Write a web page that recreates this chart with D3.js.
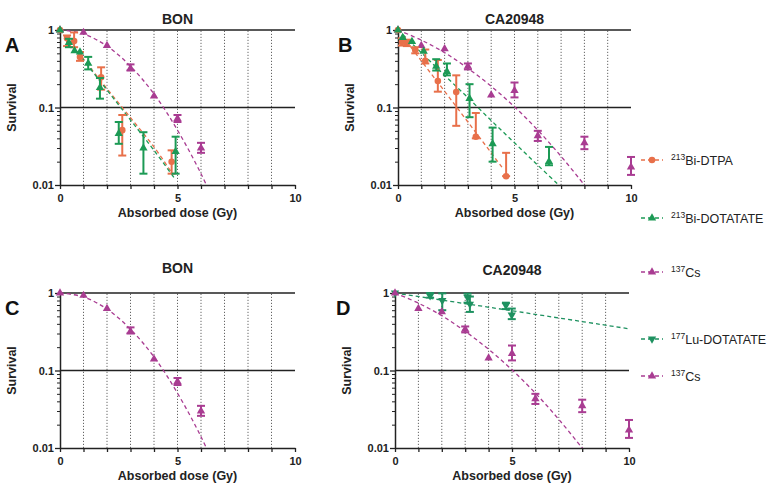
<!DOCTYPE html>
<html>
<head>
<meta charset="utf-8">
<script src="https://cdn.jsdelivr.net/npm/d3@7"></script>
<style>
  html, body { margin: 0; padding: 0; background: #fff; }
  svg { display: block; font-family: Arial, "Liberation Sans", sans-serif; }
</style>
</head>
<body>
<svg id="chart" width="769" height="485"></svg>
<script>
// ---------------- DATA ----------------
const doseTickValues = [0, 1, 2, 3, 4, 5, 6, 7, 8, 9, 10];
const doseTickLabels = [0, 5, 10];
const survivalTickLabels = [1, 0.1, 0.01];
const dottedDoses = [1, 2, 3, 4, 5, 6, 7, 8, 9];
const solidSurvivals = [1, 0.1];

// BON, 137Cs
const bonCs137 = [
  {d: 0, s: 1}, {d: 1, s: 0.93}, {d: 2, s: 0.63},
  {d: 3, s: 0.32, lo: 0.30, hi: 0.36}, {d: 4, s: 0.14},
  {d: 5, s: 0.072, lo: 0.065, hi: 0.08}, {d: 6, s: 0.03, lo: 0.026, hi: 0.035}
];
const bonCs137Fit = [[0, 1], [1, 0.89], [2, 0.62], [3, 0.34], [4, 0.15], [5, 0.051], [6, 0.014], [6.5, 0.0065]];

// BON, 213Bi-DTPA
const bonBiDTPA = [
  {d: 0, s: 1}, {d: 0.3, s: 0.78, lo: 0.62, hi: 0.85}, {d: 0.6, s: 0.72, lo: 0.6, hi: 0.93},
  {d: 0.85, s: 0.45, lo: 0.4, hi: 0.52}, {d: 1.75, s: 0.245, lo: 0.17, hi: 0.33},
  {d: 2.65, s: 0.051, lo: 0.024, hi: 0.08}, {d: 4.75, s: 0.02, lo: 0.014, hi: 0.028}
];
const bonBiDTPAFit = [[0, 1], [1, 0.42], [2, 0.175], [3, 0.074], [4, 0.031], [4.75, 0.0145]];

// BON, 213Bi-DOTATATE
const bonBiDOTATATE = [
  {d: 0, s: 1}, {d: 0.38, s: 0.69, lo: 0.6, hi: 0.77}, {d: 0.62, s: 0.54}, {d: 0.85, s: 0.52},
  {d: 1.2, s: 0.37, lo: 0.31, hi: 0.45}, {d: 1.7, s: 0.18, lo: 0.13, hi: 0.24},
  {d: 2.5, s: 0.046, lo: 0.034, hi: 0.065}, {d: 3.55, s: 0.03, lo: 0.014, hi: 0.048},
  {d: 4.92, s: 0.027, lo: 0.014, hi: 0.042}
];
const bonBiDOTATATEFit = [[0, 1], [1, 0.41], [2, 0.168], [3, 0.069], [4, 0.028], [4.85, 0.0125]];

// CA20948, 137Cs
const caCs137 = [
  {d: 0, s: 1}, {d: 1, s: 0.63}, {d: 2, s: 0.57}, {d: 3, s: 0.34, lo: 0.31, hi: 0.37},
  {d: 4, s: 0.145}, {d: 5, s: 0.165, lo: 0.135, hi: 0.21}, {d: 6, s: 0.043, lo: 0.037, hi: 0.05},
  {d: 8, s: 0.035, lo: 0.029, hi: 0.042}, {d: 10, s: 0.017, lo: 0.0135, hi: 0.023}
];
const caCs137Fit = [[0, 1], [1, 0.74], [2, 0.51], [3, 0.32], [4, 0.188], [5, 0.102], [6, 0.051], [7, 0.0234], [8, 0.01], [8.3, 0.0077]];

// CA20948, 213Bi-DTPA
const caBiDTPA = [
  {d: 0, s: 1}, {d: 0.17, s: 0.7, lo: 0.63, hi: 0.78}, {d: 0.38, s: 0.68, lo: 0.62, hi: 0.75},
  {d: 0.74, s: 0.55, lo: 0.5, hi: 0.6}, {d: 1.17, s: 0.4, lo: 0.37, hi: 0.56},
  {d: 1.71, s: 0.22, lo: 0.16, hi: 0.41}, {d: 2.5, s: 0.158, lo: 0.058, hi: 0.26},
  {d: 3.34, s: 0.042, lo: 0.04, hi: 0.085}, {d: 4.64, s: 0.013, lo: 0.013, hi: 0.026}
];
const caBiDTPAFit = [[0, 1], [1, 0.40], [2, 0.162], [3, 0.065], [4, 0.026], [4.46, 0.017]];

// CA20948, 213Bi-DOTATATE
const caBiDOTATATE = [
  {d: 0, s: 1}, {d: 0.2, s: 0.8}, {d: 0.6, s: 0.71}, {d: 1.1, s: 0.53},
  {d: 1.64, s: 0.34, lo: 0.3, hi: 0.42}, {d: 2.1, s: 0.29, lo: 0.26, hi: 0.37},
  {d: 3.07, s: 0.13, lo: 0.075, hi: 0.2}, {d: 4.06, s: 0.034, lo: 0.02, hi: 0.055},
  {d: 6.48, s: 0.02, lo: 0.018, hi: 0.031}
];
const caBiDOTATATEFit = [[0, 1], [1, 0.51], [2, 0.26], [3, 0.134], [4, 0.068], [5, 0.035], [6, 0.018], [6.9, 0.01]];

// CA20948, 177Lu-DOTATATE
const caLu = [
  {d: 0, s: 1}, {d: 1.5, s: 0.92, lo: 0.87, hi: 1.0}, {d: 2.02, s: 0.8, lo: 0.6, hi: 0.99},
  {d: 3.1, s: 0.88, lo: 0.75, hi: 0.98}, {d: 3.2, s: 0.72, lo: 0.57, hi: 0.9},
  {d: 4.74, s: 0.69, lo: 0.62, hi: 0.75}, {d: 4.99, s: 0.52, lo: 0.46, hi: 0.63}
];
const caLuFit = [[0, 1], [5, 0.59], [10, 0.345]];

// ---------------- STYLE ----------------
const COL_DTPA = "#E8704A";
const COL_DOTA = "#1C9A55";
const COL_CS = "#A93C92";
const COL_LU = "#1E9160";

const svg = d3.select("#chart");

const panels = [
  {letter: "A", title: "BON", x0: 60, x1: 295, yT: 30, yB: 185, titleY: 24, letterX: 5,
   series: [
     {data: bonCs137, fit: bonCs137Fit, color: COL_CS, shape: d3.symbolTriangle},
     {data: bonBiDTPA, fit: bonBiDTPAFit, color: COL_DTPA, shape: d3.symbolCircle},
     {data: bonBiDOTATATE, fit: bonBiDOTATATEFit, color: COL_DOTA, shape: d3.symbolTriangle}
   ]},
  {letter: "B", title: "CA20948", x0: 398, x1: 631, yT: 30, yB: 185, titleY: 24, letterX: 338,
   series: [
     {data: caCs137, fit: caCs137Fit, color: COL_CS, shape: d3.symbolTriangle},
     {data: caBiDTPA, fit: caBiDTPAFit, color: COL_DTPA, shape: d3.symbolCircle},
     {data: caBiDOTATATE, fit: caBiDOTATATEFit, color: COL_DOTA, shape: d3.symbolTriangle}
   ]},
  {letter: "C", title: "BON", x0: 60, x1: 295, yT: 293, yB: 448, titleY: 273, letterX: 5,
   series: [
     {data: bonCs137, fit: bonCs137Fit, color: COL_CS, shape: d3.symbolTriangle}
   ]},
  {letter: "D", title: "CA20948", x0: 395, x1: 629, yT: 293, yB: 448, titleY: 275, letterX: 336,
   series: [
     {data: caLu, fit: caLuFit, color: COL_LU, shape: d3.symbolTriangle, down: true},
     {data: caCs137, fit: caCs137Fit, color: COL_CS, shape: d3.symbolTriangle}
   ]}
];

panels.forEach((p, pi) => {
  const x = d3.scaleLinear().domain([0, 10]).range([p.x0, p.x1]);
  const y = d3.scaleLog().domain([0.01, 1]).range([p.yB, p.yT]);
  const g = svg.append("g");

  const clipId = "clip" + pi;
  svg.append("clipPath").attr("id", clipId).append("rect")
    .attr("x", p.x0).attr("y", p.yT - 1).attr("width", p.x1 - p.x0).attr("height", p.yB - p.yT + 1);

  // vertical dotted grid
  g.selectAll(".vg").data(dottedDoses).join("line")
    .attr("x1", d => x(d)).attr("x2", d => x(d))
    .attr("y1", y(0.01)).attr("y2", y(1))
    .attr("stroke", "#666").attr("stroke-width", 1).attr("stroke-dasharray", "1.2,1.8");

  // horizontal solid lines
  g.selectAll(".hg").data(solidSurvivals).join("line")
    .attr("x1", x(0)).attr("x2", x(10))
    .attr("y1", d => y(d)).attr("y2", d => y(d))
    .attr("stroke", "#222").attr("stroke-width", 1.5);

  // x axis
  const xa = g.append("g").attr("transform", `translate(0,${y(0.01)})`)
    .call(d3.axisBottom(x).tickValues(doseTickValues).tickSize(4).tickSizeOuter(0)
      .tickFormat(d => doseTickLabels.includes(d) ? d : ""));
  xa.select(".domain").attr("stroke", "#222").attr("stroke-width", 1.5);
  xa.selectAll(".tick line").attr("stroke", "#222").attr("stroke-width", 1.3);
  xa.selectAll(".tick text").attr("font-size", 11).attr("font-weight", "bold").attr("fill", "#222")
    .attr("font-family", "Arial, 'Liberation Sans', sans-serif").attr("dy", "0.9em");

  // y axis minor ticks
  const minor = y.ticks().filter(v => !survivalTickLabels.some(m => Math.abs(m - v) < 1e-9));
  const ym = g.append("g").attr("transform", `translate(${x(0)},0)`)
    .call(d3.axisLeft(y).tickValues(minor).tickSize(3).tickSizeOuter(0).tickFormat(""));
  ym.select(".domain").remove();
  ym.selectAll(".tick line").attr("stroke", "#222").attr("stroke-width", 1);

  // y axis major
  const ya = g.append("g").attr("transform", `translate(${x(0)},0)`)
    .call(d3.axisLeft(y).tickValues(survivalTickLabels).tickSize(5).tickSizeOuter(0)
      .tickFormat(d => String(d)));
  ya.select(".domain").attr("stroke", "#222").attr("stroke-width", 1.5);
  ya.selectAll(".tick line").attr("stroke", "#222").attr("stroke-width", 1.3);
  ya.selectAll(".tick text").attr("font-size", 11).attr("font-weight", "bold").attr("fill", "#222")
    .attr("font-family", "Arial, 'Liberation Sans', sans-serif").attr("x", -6);

  // titles
  const cx = (p.x0 + p.x1) / 2;
  g.append("text").attr("x", cx).attr("y", p.titleY).attr("text-anchor", "middle")
    .attr("font-size", 14).attr("font-weight", "bold").attr("fill", "#222").text(p.title);
  g.append("text").attr("x", cx).attr("y", p.yB + 32).attr("text-anchor", "middle")
    .attr("font-size", 12.5).attr("font-weight", "bold").attr("fill", "#222").text("Absorbed dose (Gy)");
  g.append("text").attr("transform", `translate(${p.x0 - 44},${(p.yT + p.yB) / 2}) rotate(-90)`)
    .attr("text-anchor", "middle").attr("font-size", 12.5).attr("font-weight", "bold").attr("fill", "#222")
    .text("Survival");
  g.append("text").attr("x", p.letterX).attr("y", p.yT + 22)
    .attr("font-size", 20).attr("font-weight", "bold").attr("fill", "#111").text(p.letter);

  // series
  const line = d3.line().x(d => x(d[0])).y(d => y(d[1])).curve(d3.curveCatmullRom);
  p.series.forEach(s => {
    g.append("path").datum(s.fit).attr("d", line)
      .attr("clip-path", `url(#${clipId})`)
      .attr("fill", "none").attr("stroke", s.color).attr("stroke-width", 1.3)
      .attr("stroke-dasharray", "4,3");
  });
  p.series.forEach(s => {
    const eb = s.data.filter(d => d.lo !== undefined);
    const ge = g.append("g").attr("stroke", s.color).attr("stroke-width", 2).attr("fill", "none");
    ge.selectAll(".v").data(eb).join("line")
      .attr("x1", d => x(d.d)).attr("x2", d => x(d.d))
      .attr("y1", d => y(d.lo)).attr("y2", d => y(d.hi));
    ge.selectAll(".c1").data(eb).join("line")
      .attr("x1", d => x(d.d) - 4).attr("x2", d => x(d.d) + 4)
      .attr("y1", d => y(d.lo)).attr("y2", d => y(d.lo));
    ge.selectAll(".c2").data(eb).join("line")
      .attr("x1", d => x(d.d) - 4).attr("x2", d => x(d.d) + 4)
      .attr("y1", d => y(d.hi)).attr("y2", d => y(d.hi));
    const sym = d3.symbol().type(s.shape).size(s.shape === d3.symbolCircle ? 34 : 30);
    g.append("g").selectAll("path").data(s.data).join("path")
      .attr("d", sym)
      .attr("transform", d => `translate(${x(d.d)},${y(d.s)})${s.down ? " rotate(180)" : ""}`)
      .attr("fill", s.color);
  });
});

// ---------------- LEGENDS ----------------
const legendTop = [
  {iso: "213", name: "Bi-DTPA", color: COL_DTPA, shape: d3.symbolCircle, y: 160},
  {iso: "213", name: "Bi-DOTATATE", color: COL_DOTA, shape: d3.symbolTriangle, y: 218},
  {iso: "137", name: "Cs", color: COL_CS, shape: d3.symbolTriangle, y: 272}
];
const legendBottom = [
  {iso: "177", name: "Lu-DOTATATE", color: COL_LU, shape: d3.symbolTriangle, y: 339, down: true},
  {iso: "137", name: "Cs", color: COL_CS, shape: d3.symbolTriangle, y: 376}
];
[...legendTop, ...legendBottom].forEach(l => {
  const lg = svg.append("g");
  lg.append("line").attr("x1", 641).attr("x2", 663).attr("y1", l.y).attr("y2", l.y)
    .attr("stroke", l.color).attr("stroke-width", 1.3).attr("stroke-dasharray", "4,3");
  lg.append("path").attr("d", d3.symbol().type(l.shape).size(l.shape === d3.symbolCircle ? 34 : 30))
    .attr("transform", `translate(652,${l.y})${l.down ? " rotate(180)" : ""}`).attr("fill", l.color);
  const t = lg.append("text").attr("x", 671).attr("y", l.y + 4.5).attr("font-size", 12.5).attr("fill", "#222");
  t.append("tspan").attr("font-size", 8.5).attr("dy", -5).text(l.iso);
  t.append("tspan").attr("dy", 5).text(l.name);
});
</script>
</body>
</html>
